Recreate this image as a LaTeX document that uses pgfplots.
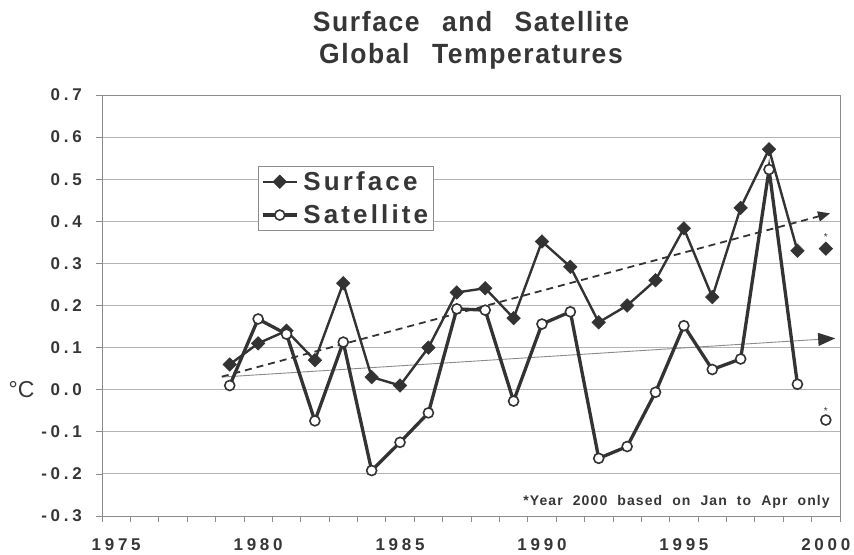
\documentclass[border=0pt]{standalone}
\usepackage{fontspec}
\setmainfont{Liberation Sans}
\newfontfamily\tickfont[LetterSpace=22]{Liberation Sans}
\newfontfamily\legfont[LetterSpace=12]{Liberation Sans}
\newfontfamily\notefont[LetterSpace=8,WordSpace=2]{Liberation Sans}
\newfontfamily\titlefont[LetterSpace=6,WordSpace=2.5]{Liberation Sans}
\usepackage{graphicx}
\usepackage{pgfplots}
\usepackage{pgfplotstable}
\pgfplotsset{compat=1.18}
\usetikzlibrary{arrows.meta}
\definecolor{textgray}{HTML}{363636}
\definecolor{linegray}{HTML}{333333}
\definecolor{gridgray}{HTML}{B4B4B4}
\definecolor{framegray}{HTML}{8C8C8C}
\definecolor{trendgray}{HTML}{8A8A8A}

% annual anomalies, deg C
\pgfplotstableread{
year surface satellite
1979 0.06  0.01
1980 0.11  0.168
1981 0.14  0.132
1982 0.07 -0.074
1983 0.253 0.113
1984 0.03 -0.192
1985 0.01 -0.125
1986 0.10 -0.055
1987 0.231 0.192
1988 0.241 0.189
1989 0.17 -0.027
1990 0.352 0.156
1991 0.292 0.185
1992 0.16 -0.163
1993 0.20 -0.135
1994 0.26 -0.006
1995 0.383 0.152
1996 0.22  0.048
1997 0.432 0.073
1998 0.571 0.523
1999 0.33  0.013
}\temps

\begin{document}
\begin{tikzpicture}
\begin{axis}[
  scale only axis,
  width=738pt, height=421pt,
  xmin=1974.5, xmax=2000.5,
  ymin=-0.3, ymax=0.7,
  axis line style={draw=framegray, line width=0.8pt},
  tick pos=left,
  tick align=outside,
  xtick={1975,1980,1985,1990,1995,2000},
  xticklabels={1975,1980,1985,1990,1995,2000},
  minor xtick={1974.5,1975.5,...,2000.5},
  major x tick style={draw=none},
  minor x tick style={draw=framegray, line width=0.8pt},
  minor tick length=6pt,
  major tick length=6pt,
  ytick={-0.3,-0.2,-0.1,0,0.1,0.2,0.3,0.4,0.5,0.6,0.7},
  yticklabels={-0.3,-0.2,-0.1,0.0,0.1,0.2,0.3,0.4,0.5,0.6,0.7},
  ytick style={draw=framegray, line width=0.8pt},
  ymajorgrids,
  major grid style={draw=gridgray, line width=0.9pt},
  xticklabel style={font=\tickfont\bfseries\fontsize{17}{17}\selectfont, text=textgray, anchor=north, inner sep=0pt, yshift=-16pt},
  yticklabel style={font=\tickfont\bfseries\fontsize{17}{17}\selectfont, text=textgray, anchor=east, inner sep=0pt, xshift=-14pt},
  ylabel={°C},
  every axis y label/.style={at={(rel axis cs:0,0.3)}, anchor=east, xshift=-64pt, font=\fontsize{23}{23}\selectfont, text=textgray},
  title={\scalebox{1}[1.05]{Surface and Satellite}\\\scalebox{1}[1.05]{Global Temperatures}},
  title style={font=\titlefont\bfseries\fontsize{26.5}{32}\selectfont, text=textgray, align=center, at={(0.5,1)}, anchor=south, inner sep=0pt, yshift=20pt},
  legend style={at={(rel axis cs:0.211,0.831)}, anchor=north west, draw=framegray, line width=0.8pt, fill=white,
    font=\legfont\bfseries\fontsize{26}{26}\selectfont, text=textgray, inner xsep=3pt, inner ysep=3pt, row sep=9pt, column sep=3pt},
  legend cell align=left,
  legend image code/.code={\draw[mark repeat=2,mark phase=2,#1] plot coordinates {(0pt,0pt) (17pt,0pt) (34pt,0pt)};},
]
% trend lines
\addplot[forget plot, draw=trendgray, line width=0.9pt, -{Triangle[length=17pt,width=13pt,color=linegray]}]
  coordinates {(1978.72,0.03) (2000.33,0.122)};
\addplot[forget plot, draw=linegray, line width=1.8pt, dash pattern=on 7pt off 5pt, -{Triangle[length=12pt,width=10pt]}]
  coordinates {(1978.72,0.031) (2000.15,0.419)};

\addplot[color=linegray, line width=2.4pt, mark=square*, mark size=4.8pt,
  mark options={rotate=45, fill=linegray, line width=0.5pt}] table[x=year,y=surface] {\temps};
\addlegendentry{Surface}
\addplot[color=linegray, line width=3.3pt, mark=*, mark size=5pt,
  mark options={fill=white, line width=1.6pt}] table[x=year,y=satellite] {\temps};
\addlegendentry{Satellite}

% year 2000, Jan to Apr only
\addplot[forget plot, only marks, color=linegray, mark=square*, mark size=4.8pt,
  mark options={rotate=45, fill=linegray, line width=0.5pt},
  nodes near coords={*},
  every node near coord/.append style={anchor=base, inner sep=0pt, yshift=8pt, font=\fontsize{10}{10}\selectfont, text=textgray}]
  coordinates {(2000,0.335)};
\addplot[forget plot, only marks, color=linegray, mark=*, mark size=5pt,
  mark options={fill=white, line width=1.6pt},
  nodes near coords={*},
  every node near coord/.append style={anchor=base, inner sep=0pt, yshift=6pt, font=\fontsize{10}{10}\selectfont, text=textgray}]
  coordinates {(2000,-0.072)};

\node[anchor=base east, inner sep=0pt, xshift=-10pt, yshift=11pt, text=textgray,
  font=\notefont\bfseries\fontsize{14}{14}\selectfont] at (rel axis cs:1,0) {*Year 2000 based on Jan to Apr only};
\end{axis}
\pgfresetboundingbox
\path[use as bounding box] ([shift={(-102pt,-38pt)}]current axis.south west) rectangle ([shift={(14pt,95pt)}]current axis.north east);
\end{tikzpicture}
\end{document}
